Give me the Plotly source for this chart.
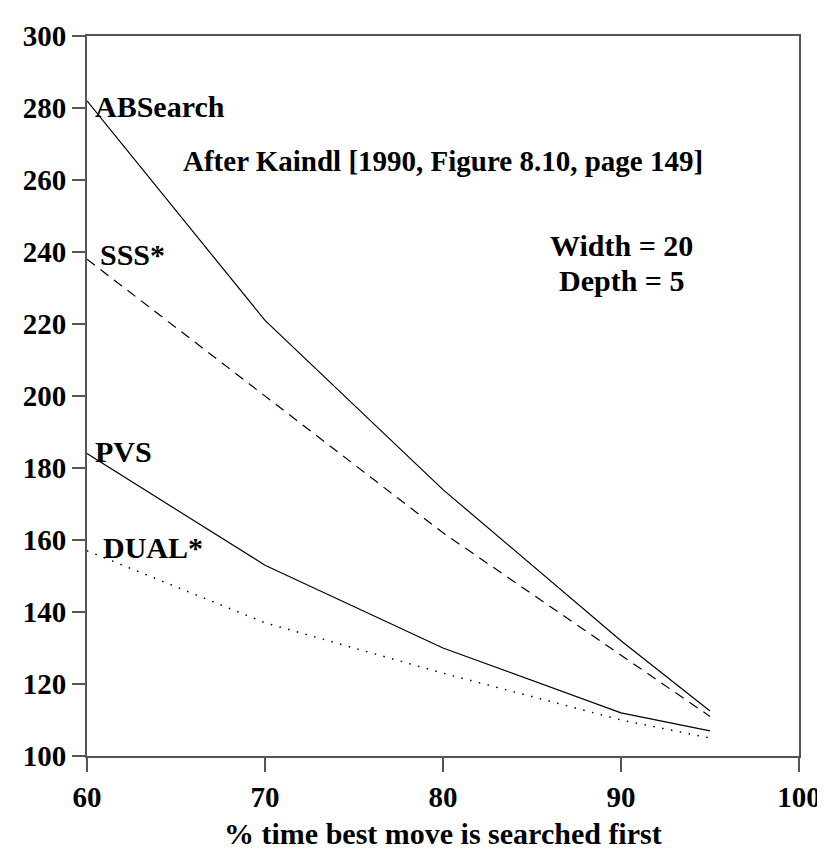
import plotly.graph_objects as go

x_pct = [60, 70, 80, 90, 95]
absearch = [282, 221, 174, 132, 112.5]
sss = [238, 200, 162, 128, 111]
pvs = [184, 153, 130, 112, 107]
dual = [157, 137, 123, 110, 105]

x_ticks = [60, 70, 80, 90, 100]
y_ticks = [100, 120, 140, 160, 180, 200, 220, 240, 260, 280, 300]

FONT = "Liberation Serif"

fig = go.Figure()
fig.add_trace(go.Scatter(x=x_pct, y=absearch, mode="lines",
                         line=dict(color="black", width=1.2), name="ABSearch"))
fig.add_trace(go.Scatter(x=x_pct, y=sss, mode="lines",
                         line=dict(color="black", width=1.2, dash="10px,7px"), name="SSS*"))
fig.add_trace(go.Scatter(x=x_pct, y=pvs, mode="lines",
                         line=dict(color="black", width=1.2), name="PVS"))
fig.add_trace(go.Scatter(x=x_pct, y=dual, mode="lines",
                         line=dict(color="black", width=1.5, dash="1.5px,7.5px"), name="DUAL*"))

labels = [("ABSearch", 60, 280.5, 6), ("SSS*", 60, 239.4, 11),
          ("PVS", 60, 184.7, 6), ("DUAL*", 60, 158, 14)]
for txt, lx, ly, sh in labels:
    fig.add_annotation(x=lx, y=ly, text="<b>%s</b>" % txt, showarrow=False,
                       xanchor="left", yanchor="middle", xshift=sh,
                       font=dict(family=FONT, size=30, color="black"))

fig.add_annotation(x=80, y=265.3, text="<b>After Kaindl [1990, Figure 8.10, page 149]</b>",
                   showarrow=False, xanchor="center", yanchor="middle",
                   font=dict(family=FONT, size=29, color="black"))
fig.add_annotation(x=90, y=241.7, text="<b>Width = 20</b>", showarrow=False,
                   xanchor="center", yanchor="middle",
                   font=dict(family=FONT, size=30, color="black"))
fig.add_annotation(x=90, y=232, text="<b>Depth = 5</b>", showarrow=False,
                   xanchor="center", yanchor="middle",
                   font=dict(family=FONT, size=30, color="black"))
fig.add_annotation(x=80, xref="x", y=-0.108, yref="paper",
                   text="<b>% time best move is searched first</b>", showarrow=False,
                   xanchor="center", yanchor="middle",
                   font=dict(family=FONT, size=30, color="black"))

axis_common = dict(showgrid=False, zeroline=False, showline=True, linecolor="#555555",
                   linewidth=2, mirror=True, ticks="outside", tickcolor="#555555",
                   tickwidth=2, tickfont=dict(family=FONT, size=29, color="black"))

fig.update_xaxes(range=[60, 100], tickvals=x_ticks,
                 ticktext=["<b>%d</b>" % v for v in x_ticks], ticklen=14, **axis_common)
fig.update_yaxes(range=[100, 300], tickvals=y_ticks,
                 ticktext=["<b>%d</b>" % v for v in y_ticks], ticklen=13, **axis_common)

fig.update_layout(width=825, height=852, margin=dict(l=79, r=26, t=28, b=104),
                  paper_bgcolor="white", plot_bgcolor="white", showlegend=False,
                  font=dict(family=FONT))

fig.write_html("out.html")
